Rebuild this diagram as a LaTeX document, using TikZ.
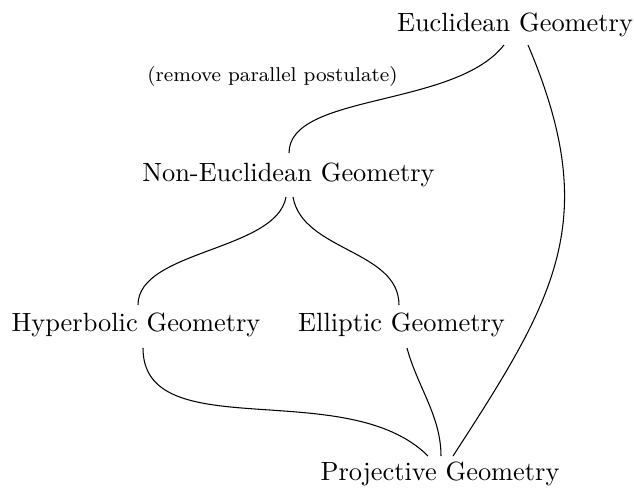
\documentclass[tikz,border=0pt]{standalone}
\usetikzlibrary{calc}
\begin{document}
\begin{tikzpicture}[x=0.379pt,y=-0.379pt,
  lbl/.style={inner sep=0pt,anchor=center},
  note/.style={inner sep=0pt,anchor=center,font=\footnotesize,scale=0.947},
  conn/.style={line width=0.4pt}]
\useasboundingbox (0,0) rectangle (634,492);
\node[lbl] (euc) at (515,24.5) {Euclidean Geometry};
\node[note] (rm) at (272.5,77) {(remove parallel postulate)};
\node[lbl] (noneuc) at (288.5,175) {Non-Euclidean Geometry};
\node[lbl] (hyp) at (136,324.5) {Hyperbolic Geometry};
\node[lbl] (ell) at (401.5,324.5) {Elliptic Geometry};
\node[lbl] (proj) at (440,474) {Projective Geometry};

\draw[conn] ($(euc.center)+(-11,20.5)$) .. controls +(128:80) and +(-90:60) .. ($(noneuc.center)+(0.5,-22)$);
\draw[conn] ($(euc.center)+(13,20.5)$) .. controls +(67:190) and +(-57:190) .. ($(proj.center)+(13,-18)$);
\draw[conn] ($(noneuc.center)+(-2.5,22)$) .. controls +(100:55) and +(-90:55) .. ($(hyp.center)+(2,-19.5)$);
\draw[conn] ($(noneuc.center)+(4.5,22)$) .. controls +(80:55) and +(-90:55) .. ($(ell.center)+(-2.5,-19.5)$);
\draw[conn] ($(hyp.center)+(7,23.5)$) .. controls +(90:100) and +(225:115) .. ($(proj.center)+(-12,-18)$);
\draw[conn] ($(ell.center)+(5.5,23.5)$) .. controls +(75:40) and +(-90:40) .. ($(proj.center)+(1,-18)$);
\end{tikzpicture}
\end{document}
